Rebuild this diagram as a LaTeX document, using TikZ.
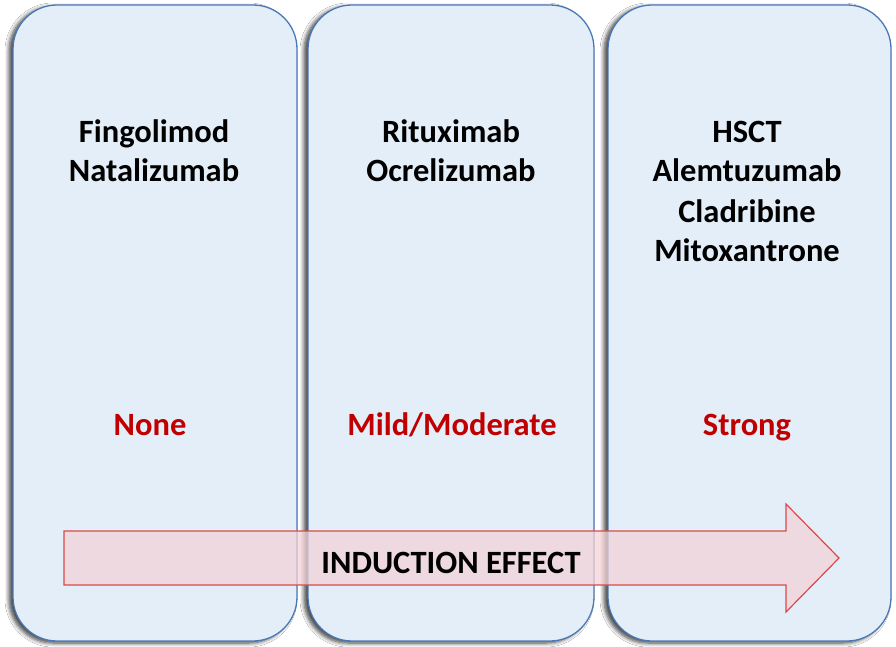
\documentclass[tikz,border=0pt]{standalone}
\usepackage{fontspec}
\setmainfont{Carlito}
\usetikzlibrary{shadows.blur}
\definecolor{boxfill}{HTML}{E4EEF8}
\definecolor{boxline}{HTML}{4A78B4}
\definecolor{effred}{HTML}{C00000}
\definecolor{arrfill}{HTML}{F3D3D8}
\definecolor{arrline}{HTML}{D84A4A}
\tikzset{
  panel/.style={draw=boxline, line width=1.3pt, fill=boxfill, rounded corners=44pt,
    blur shadow={shadow xshift=-4pt, shadow yshift=-2pt, shadow blur steps=6, shadow blur radius=4pt, shadow blur extra rounding=2pt, shadow opacity=75}},
  drug/.style={font=\bfseries\fontsize{32.5}{39}\selectfont, text=black, anchor=base, inner sep=0pt},
  effect/.style={font=\bfseries\fontsize{32.5}{39}\selectfont, text=effred, anchor=base, inner sep=0pt},
  arrowlabel/.style={font=\bfseries\fontsize{32.5}{39}\selectfont, text=black, anchor=base, inner sep=0pt},
  bigarrow/.style={draw=arrline, line width=1.2pt, fill=arrfill, fill opacity=0.75}
}
\begin{document}
\begin{tikzpicture}[x=1pt,y=-1pt]
\useasboundingbox (0,0) rectangle (896,647);
\fill[white] (0,0) rectangle (896,647);
\draw[panel] (13,5) rectangle (297,641);
\draw[panel] (308,5) rectangle (594,641);
\draw[panel] (608,5) rectangle (891,641);
\node[drug] (d1a) at (154,143) {Fingolimod};
\node[drug] (d1b) at (154,182) {Natalizumab};
\node[drug] (d2a) at (451,143) {Rituximab};
\node[drug] (d2b) at (451,182) {Ocrelizumab};
\node[drug] (d3a) at (747,143) {HSCT};
\node[drug] (d3b) at (747,182) {Alemtuzumab};
\node[drug] (d3c) at (747,222) {Cladribine};
\node[drug] (d3d) at (747,261) {Mitoxantrone};
\node[effect] (e1) at (150,435) {None};
\node[effect] (e2) at (452,435) {Mild/Moderate};
\node[effect] (e3) at (747,435) {Strong};
\path[bigarrow] (64,531) -- (786,531) -- (786,504) -- (839,558) -- (786,612) -- (786,585) -- (64,585) -- cycle;
\node[arrowlabel] (ie) at (451,573) {INDUCTION EFFECT};
\end{tikzpicture}
\end{document}
